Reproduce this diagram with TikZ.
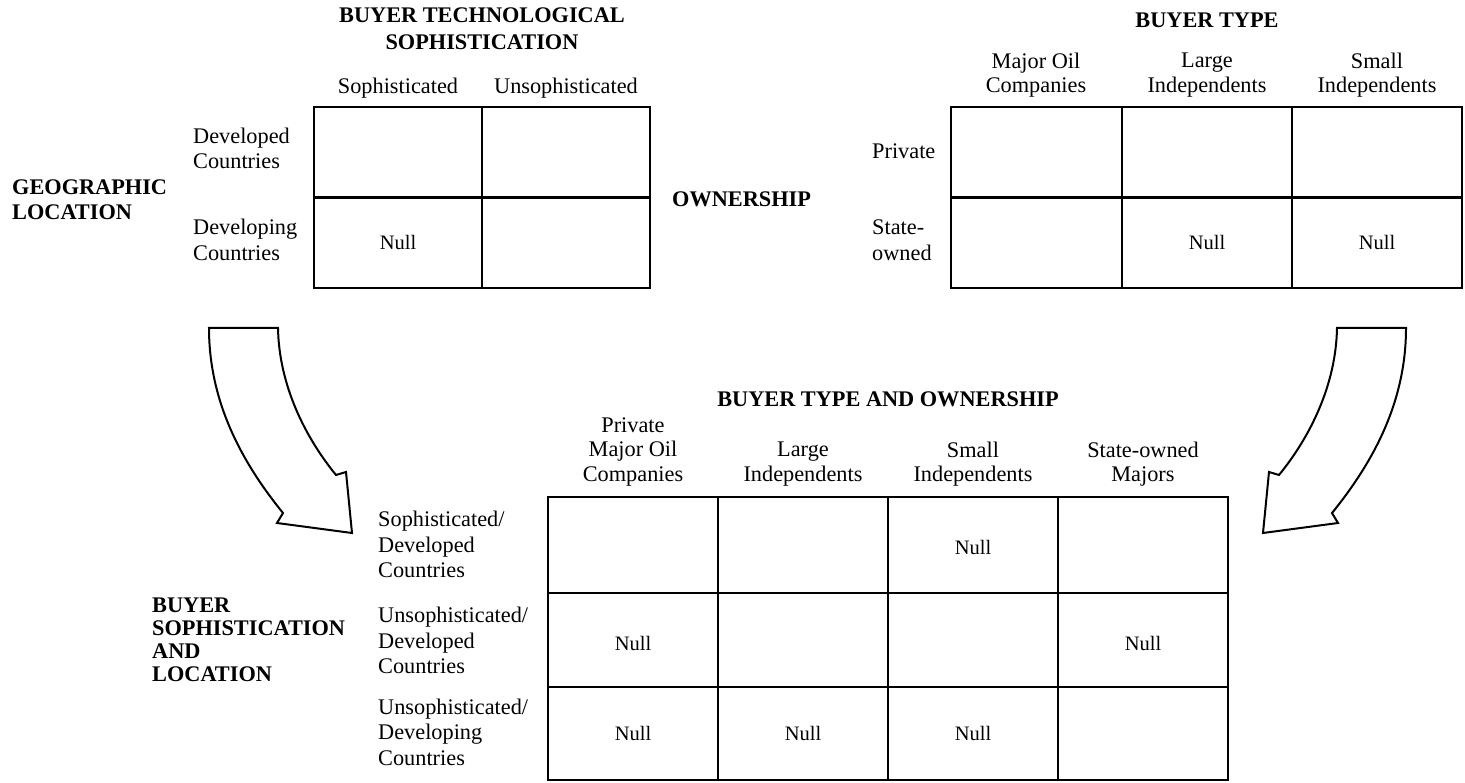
\documentclass[tikz,border=0pt]{standalone}
\usepackage{fontspec}
\setmainfont{Liberation Serif}
\begin{document}
\begin{tikzpicture}[x=1pt,y=-1pt,
  lbl/.style={font=\fontsize{22.3}{25.5}\selectfont, inner sep=0pt, align=left},
  colh/.style={font=\fontsize{22.3}{24.5}\selectfont, inner sep=0pt, align=center},
  hdr/.style={font=\bfseries\fontsize{22.3}{25}\selectfont, inner sep=0pt, align=center},
  hdrl/.style={font=\bfseries\fontsize{22.3}{24}\selectfont, inner sep=0pt, align=left},
  nul/.style={font=\fontsize{20.5}{24}\selectfont, inner sep=0pt},
  gridline/.style={line width=2.6pt},
  bigarrow/.style={line width=2pt, line join=miter}]
\useasboundingbox (0,0) rectangle (1465,783);

% ---------- top-left grid ----------
\draw[gridline] (314,107) rectangle (650,288);
\draw[gridline] (482,107) -- (482,288);
\draw[gridline] (314,197.5) -- (650,197.5);
\node[hdr, font=\bfseries\fontsize{22.3}{27}\selectfont] (t1) at (482,28.5) {BUYER TECHNOLOGICAL\\SOPHISTICATION};
\node[colh] (soph) at (398,88) {Sophisticated};
\node[colh] (unsoph) at (566,88) {Unsophisticated};
\node[lbl, anchor=west] (dev) at (193,148.5) {Developed\\Countries};
\node[lbl, anchor=west] (devg) at (193,240) {Developing\\Countries};
\node[hdrl, font=\bfseries\fontsize{22.3}{25}\selectfont, anchor=west] (geo) at (12,199.5) {GEOGRAPHIC\\LOCATION};
\node[nul] (n1) at (398,242) {Null};
\node[hdrl, anchor=west] (own) at (672,199) {OWNERSHIP};

% ---------- top-right grid ----------
\draw[gridline] (951,107) rectangle (1462,288);
\draw[gridline] (1122,107) -- (1122,288);
\draw[gridline] (1292,107) -- (1292,288);
\draw[gridline] (951,197.5) -- (1462,197.5);
\node[hdr] (t2) at (1207,20) {BUYER TYPE};
\node[colh] (maj) at (1036,75) {Major Oil\\Companies};
\node[colh] (large) at (1207,75) {Large\\Independents};
\node[colh] (small) at (1377,75) {Small\\Independents};
\node[lbl, anchor=west] (priv) at (872,151) {Private};
\node[lbl, anchor=west] (state) at (872,240) {State-\\owned};
\node[nul] (n2) at (1207,242) {Null};
\node[nul] (n3) at (1377,242) {Null};

% ---------- arrows ----------
\draw[bigarrow] (209,328) -- (278,328)
  .. controls (279,385) and (305,437) .. (336,475)
  -- (346,472) -- (352,533) -- (277,523) -- (283,513)
  .. controls (240,460) and (209,400) .. (209,328) -- cycle;
\draw[bigarrow] (1406,328) -- (1337,328)
  .. controls (1336,385) and (1310,437) .. (1279,475)
  -- (1269,472) -- (1263,533) -- (1338,523) -- (1332,513)
  .. controls (1375,460) and (1406,400) .. (1406,328) -- cycle;

% ---------- bottom grid ----------
\draw[gridline] (548,497) rectangle (1228,780);
\foreach \xx in {718,888,1058} \draw[gridline] (\xx,497) -- (\xx,780);
\foreach \yy in {593,687} \draw[gridline] (548,\yy) -- (1228,\yy);
\node[hdr] (t3) at (888,399) {BUYER TYPE AND OWNERSHIP};
\node[colh] (bc1) at (633,451.5) {Private\\Major Oil\\Companies};
\node[colh] (bc2) at (803,464) {Large\\Independents};
\node[colh] (bc3) at (973,464) {Small\\Independents};
\node[colh] (bc4) at (1143,464) {State-owned\\Majors};
\node[lbl, anchor=west] (br1) at (378,544.5) {Sophisticated/\\Developed\\Countries};
\node[lbl, anchor=west] (br2) at (378,640.5) {Unsophisticated/\\Developed\\Countries};
\node[lbl, anchor=west] (br3) at (378,732) {Unsophisticated/\\Developing\\Countries};
\node[hdrl, font=\bfseries\fontsize{22.3}{23}\selectfont, anchor=west] (bsl) at (152,639.5) {BUYER\\SOPHISTICATION\\AND\\LOCATION};
\node[nul] (m13) at (973,547) {Null};
\node[nul] (m21) at (633,643) {Null};
\node[nul] (m24) at (1143,643) {Null};
\node[nul] (m31) at (633,733) {Null};
\node[nul] (m32) at (803,733) {Null};
\node[nul] (m33) at (973,733) {Null};
\end{tikzpicture}
\end{document}
